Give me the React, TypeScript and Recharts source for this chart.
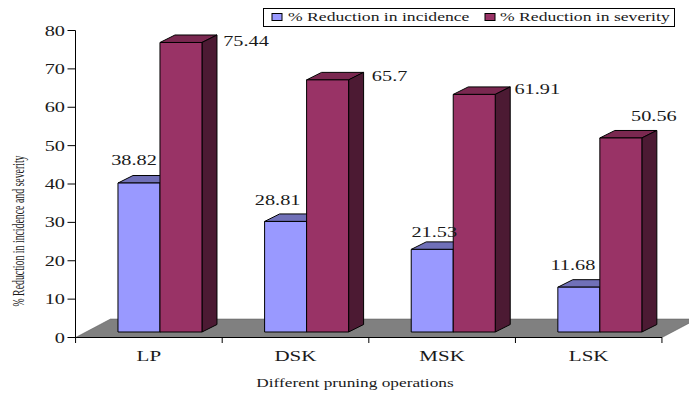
import React from "react";
import { BarChart, Bar, XAxis, YAxis, Legend, LabelList, usePlotArea } from "recharts";

const categories = ["LP", "DSK", "MSK", "LSK"];
const incidence = [38.82, 28.81, 21.53, 11.68];
const severity = [75.44, 65.7, 61.91, 50.56];
const yTicks = [0, 10, 20, 30, 40, 50, 60, 70, 80];

const rows = categories.map((name, i) => ({ name, incidence: incidence[i], severity: severity[i] }));

const SERIF = "'Liberation Serif', 'Times New Roman', serif";
const WIDE = 1.4;

const incidenceColors = { front: "#9999FF", top: "#7070B8", side: "#4C4C80" };
const severityColors = { front: "#993366", top: "#7A2850", side: "#4C1A33" };

// Projection used for the pseudo-3D look
const SHIFT_X = 11.25;
const SHIFT_Y = -5.5;
const DEPTH_X = 15;
const DEPTH_Y = -7.5;
const FLOOR_X = 35;
const FLOOR_Y = -18.5;

// Nudges for the value labels, relative to each bar's top-centre
const incidenceNudge = [[-5, -18], [-8, -16], [2, -12], [-6, -17]];
const severityNudge = [[65, 4], [62, 1], [63, 0], [33, -17]];

function WideText({ x, y, children, anchor = "middle", size = 14.5, sx = WIDE, color = "#1a1a1a" }: any) {
  return (
    <text
      transform={`translate(${x},${y}) scale(${sx},1)`}
      textAnchor={anchor}
      fontFamily={SERIF}
      fontSize={size}
      fill={color}
    >
      {children}
    </text>
  );
}

function box3d(colors: any) {
  return (props: any) => {
    const { x, y, width, height } = props;
    const l = x + SHIFT_X;
    const r = l + width;
    const t = y + SHIFT_Y;
    const b = t + height;
    return (
      <g stroke="#000" strokeWidth={1} strokeLinejoin="round">
        <polygon
          points={`${l},${t} ${l + DEPTH_X},${t + DEPTH_Y} ${r + DEPTH_X},${t + DEPTH_Y} ${r},${t}`}
          fill={colors.top}
        />
        <polygon
          points={`${r},${t} ${r + DEPTH_X},${t + DEPTH_Y} ${r + DEPTH_X},${b + DEPTH_Y} ${r},${b}`}
          fill={colors.side}
        />
        <rect x={l} y={t} width={width} height={height} fill={colors.front} />
      </g>
    );
  };
}

function Floor() {
  const area = usePlotArea();
  if (!area) return null;
  const { x, y, width, height } = area;
  const base = y + height;
  return (
    <polygon
      points={`${x},${base} ${x + FLOOR_X},${base + FLOOR_Y} ${x + width + FLOOR_X},${base + FLOOR_Y} ${x + width},${base}`}
      fill="#808080"
      stroke="#555"
      strokeWidth={0.5}
    />
  );
}

function valueLabel(values: number[], nudge: number[][]) {
  return (props: any) => {
    const { x, y, width, index } = props;
    const [dx, dy] = nudge[index];
    return (
      <WideText x={x + SHIFT_X + width / 2 + dx} y={y + SHIFT_Y + dy}>
        {String(values[index])}
      </WideText>
    );
  };
}

function CategoryTick(props: any) {
  const { x, payload, index } = props;
  const half = 73.25;
  return (
    <g>
      <line x1={x - half} y1={337.5} x2={x - half} y2={343} stroke="#000" />
      {index === categories.length - 1 && (
        <line x1={x + half} y1={337.5} x2={x + half} y2={343} stroke="#000" />
      )}
      <WideText x={x} y={361} size={14} sx={1.5}>
        {payload.value}
      </WideText>
    </g>
  );
}

function ValueTick(props: any) {
  const { y, payload } = props;
  return (
    <WideText x={65} y={y + 5} anchor="end">
      {payload.value}
    </WideText>
  );
}

function KeyBox() {
  const swatch = (x: number, color: string) => (
    <rect x={x} y={5.5} width={10} height={7} fill={color} stroke="#000" strokeWidth={1} />
  );
  return (
    <svg width={413} height={20} style={{ display: "block" }}>
      <rect x={0.5} y={0.5} width={411} height={18} fill="#fff" stroke="#000" />
      {swatch(9, incidenceColors.front)}
      <WideText x={25} y={13} anchor="start" size={12.5} sx={1.41}>% Reduction in incidence</WideText>
      {swatch(222, severityColors.front)}
      <WideText x={237} y={13} anchor="start" size={12.5} sx={1.41}>% Reduction in severity</WideText>
    </svg>
  );
}

export default function App() {
  return (
    <div style={{ position: "absolute", left: 0, top: 0, width: 689, height: 394, overflow: "hidden", background: "#fff" }}>
      <BarChart
        width={689}
        height={394}
        data={rows}
        margin={{ top: 30.5, right: 27, bottom: 0, left: 0 }}
        barCategoryGap="21.3%"
        barGap={0}
      >
        <Floor />
        <XAxis
          dataKey="name"
          axisLine={{ stroke: "#000" }}
          tickLine={false}
          tick={<CategoryTick />}
          interval={0}
          height={56.5}
        />
        <YAxis
          domain={[0, 80]}
          ticks={yTicks}
          axisLine={{ stroke: "#000" }}
          tickLine={{ stroke: "#000" }}
          tickSize={8}
          tick={<ValueTick />}
          width={75.5}
          interval={0}
        />
        <Legend
          layout="horizontal"
          verticalAlign="middle"
          content={<KeyBox />}
          wrapperStyle={{ position: "absolute", left: 263, top: 8, width: 413, height: 20, bottom: "auto" }}
        />
        <Bar dataKey="incidence" isAnimationActive={false} shape={box3d(incidenceColors)} fill={incidenceColors.front}>
          <LabelList dataKey="incidence" content={valueLabel(incidence, incidenceNudge)} />
        </Bar>
        <Bar dataKey="severity" isAnimationActive={false} shape={box3d(severityColors)} fill={severityColors.front}>
          <LabelList dataKey="severity" content={valueLabel(severity, severityNudge)} />
        </Bar>
        <WideText x={355} y={387} size={13.5} sx={1.28}>Different pruning operations</WideText>
        <text
          transform="translate(24,231) rotate(-90) scale(0.7,1.2)"
          textAnchor="middle"
          fontFamily={SERIF}
          fontSize={14}
          fill="#1a1a1a"
        >
          % Reduction in incidence and severity
        </text>
      </BarChart>
    </div>
  );
}
